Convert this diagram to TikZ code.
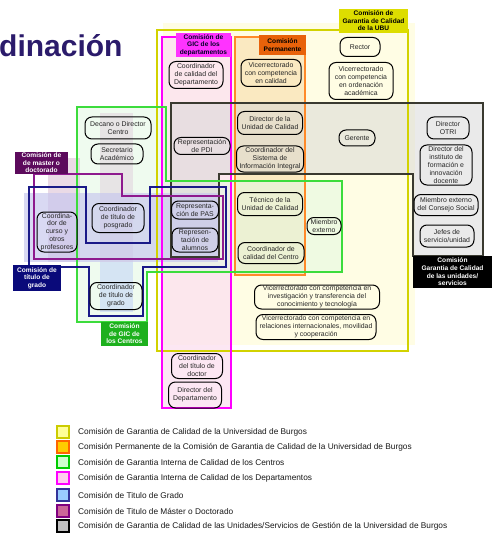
\documentclass[tikz,border=0pt]{standalone}
\usepackage{fontspec}
\setmainfont{Liberation Sans}
\usetikzlibrary{shapes.misc}
\definecolor{ubuline}{HTML}{D2D200}
\definecolor{ubulab}{HTML}{DDDD00}
\definecolor{ubufill}{HTML}{FFFDE4}
\definecolor{orline}{HTML}{FF8A2A}
\definecolor{orlab}{HTML}{E8620A}
\definecolor{orfill}{HTML}{F6D9A6}
\definecolor{mgline}{HTML}{FF00FF}
\definecolor{mglab}{HTML}{FF33FF}
\definecolor{mgfill}{HTML}{FCE2F0}
\definecolor{grline}{HTML}{3CDC3C}
\definecolor{grlab}{HTML}{1DB01D}
\definecolor{grfill}{HTML}{E2F8E2}
\definecolor{blline}{HTML}{1A1A88}
\definecolor{bllab}{HTML}{0A0A7A}
\definecolor{blfill}{HTML}{C6C6EE}
\definecolor{puline}{HTML}{8E1A8E}
\definecolor{pulab}{HTML}{5C0A5C}
\definecolor{pufill}{HTML}{DCC2D6}
\definecolor{bkline}{HTML}{3A3A30}
\definecolor{bkfill}{HTML}{D6D6D6}
\definecolor{titlecol}{HTML}{2B1B6B}
\definecolor{ltblue}{HTML}{C4D6F6}
\definecolor{lg1}{HTML}{FFFF99}
\definecolor{lg1b}{HTML}{CCCC00}
\definecolor{lg2}{HTML}{FFCC00}
\definecolor{lg2b}{HTML}{FF6600}
\definecolor{lg3}{HTML}{CCFFCC}
\definecolor{lg3b}{HTML}{00CC00}
\definecolor{lg4}{HTML}{FFCCEE}
\definecolor{lg4b}{HTML}{FF00FF}
\definecolor{lg5}{HTML}{99CCFF}
\definecolor{lg5b}{HTML}{333399}
\definecolor{lg6}{HTML}{CC6699}
\definecolor{lg6b}{HTML}{800080}
\definecolor{lg7}{HTML}{C0C0C0}
\newcommand{\nfont}{\fontsize{6.9}{7.8}\selectfont}
\newcommand{\lfont}{\fontsize{6.6}{7.6}\selectfont\bfseries}
\tikzset{
  nd/.style={draw=black, line width=1pt, rounded corners=7pt, align=center,
    inner sep=0pt, font=\nfont, text=black!85},
  comm/.style={line width=1.8pt},
  lab/.style={align=center, inner sep=0pt, font=\lfont},
  legsq/.style={line width=2pt, minimum size=11.5pt, inner sep=0pt},
  legtx/.style={anchor=west, inner sep=0pt, font=\fontsize{8.3}{9}\selectfont, text=black!90}
}
\begin{document}
\begin{tikzpicture}[x=1pt,y=-1pt]
\useasboundingbox (0,0) rectangle (492,540);
\fill[white] (0,0) rectangle (492,540);

% title
\node[anchor=base west, inner sep=0pt, font=\fontsize{30}{34}\selectfont\bfseries, text=titlecol] (title) at (-1,57) {dinación};

% fills
\fill[ubufill] (163,23) rectangle (415,345);
\fill[mgfill, opacity=0.8] (162,37) rectangle (231,408);
\fill[orfill, opacity=0.55] (235,37) rectangle (305,275);
\fill[grfill, opacity=0.55] (77,107) -- (166,107) -- (166,181) -- (342,181) -- (342,272) -- (147,272) -- (147,322) -- (77,322) -- cycle;
\fill[bkfill, opacity=0.5] (171,103) -- (483,103) -- (483,256) -- (413,256) -- (413,174) -- (219,174) -- (219,257) -- (171,257) -- cycle;
\fill[pufill, opacity=0.6] (48,158) rectangle (80,262);
\fill[pufill, opacity=0.4] (100,113) rectangle (133,262);
\fill[blfill, opacity=0.65] (24,193) rectangle (218,262);
\fill[ltblue, opacity=0.6] (100,262) rectangle (133,312);

% committee outlines
\draw[comm, ubuline] (157,30) rectangle (408,351);
\draw[comm, mgline] (162,37) rectangle (231,408);
\draw[comm, orline] (235,37) rectangle (305,275);
\draw[comm, bkline] (171,103) -- (483,103) -- (483,256) -- (413,256) -- (413,174) -- (219,174) -- (219,257) -- (171,257) -- cycle;
\draw[comm, grline] (77,107) -- (166,107) -- (166,181) -- (342,181) -- (342,272) -- (147,272) -- (147,322) -- (77,322) -- cycle;
\draw[comm, puline] (34,174) -- (122,174) -- (122,196) -- (223,196) -- (223,259) -- (34,259) -- cycle;
\draw[comm, blline] (29,187) -- (86,187) -- (86,243) -- (150,243) -- (150,187) -- (226,187) -- (226,267) -- (143,267) -- (143,316) -- (89,316) -- (89,267) -- (29,267) -- cycle;

% committee labels
\node[lab, fill=ubulab, minimum width=69pt, minimum height=24pt] (lubu) at (373.5,21) {Comisión de\\Garantia de Calidad\\de la UBU};
\node[lab, fill=orlab, minimum width=47pt, minimum height=20pt] (lper) at (282.5,45) {Comisión\\Permanente};
\node[lab, fill=mglab, text=black!85!blue, minimum width=55pt, minimum height=24pt] (ldep) at (203.5,45) {Comisión de\\GIC de los\\departamentos};
\node[lab, fill=grlab, text=white, minimum width=47pt, minimum height=24pt] (lcen) at (124.5,334) {Comisión\\de GIC de\\los Centros};
\node[lab, fill=bllab, text=white, minimum width=48pt, minimum height=26pt] (lgra) at (37,278) {Comisión de\\título de\\grado};
\node[lab, fill=pulab, text=white, minimum width=53pt, minimum height=22pt] (lmas) at (41.5,163) {Comisión de\\de master o\\doctorado};
\node[lab, fill=black, text=white, minimum width=79pt, minimum height=32pt] (luni) at (452.5,272) {Comisión\\Garantia de Calidad\\de las unidades/\\servicios};

% member nodes
\node[nd, minimum width=54pt, minimum height=27pt] (depcal) at (196,75) {Coordinador\\de calidad del\\Departamento};
\node[nd, minimum width=60pt, minimum height=27pt] (vicecal) at (271,73) {Vicerrectorado\\con competencia\\en calidad};
\node[nd, minimum width=40pt, minimum height=19pt] (rector) at (360,47) {Rector};
\node[nd, minimum width=64pt, minimum height=37pt] (viceord) at (361,81) {Vicerrectorado\\con competencia\\en ordenación\\académica};
\node[nd, minimum width=66pt, minimum height=22pt] (decano) at (118,128) {Decano o Director\\Centro};
\node[nd, minimum width=52pt, minimum height=20pt] (secret) at (117,154) {Secretario\\Académico};
\node[nd, minimum width=56pt, minimum height=17pt] (pdi) at (202,146) {Representación\\de PDI};
\node[nd, minimum width=65pt, minimum height=23pt] (dirUC) at (270,123) {Director de la\\Unidad de Calidad};
\node[nd, minimum width=67pt, minimum height=26pt] (coordSII) at (270,159) {Coordinador del\\Sistema de\\Información Integral};
\node[nd, minimum width=36pt, minimum height=16pt] (gerente) at (357,138) {Gerente};
\node[nd, minimum width=42pt, minimum height=22pt] (otri) at (448,128) {Director\\OTRI};
\node[nd, minimum width=52pt, minimum height=40pt] (instituto) at (446,165) {Director del\\instituto de\\formación e\\innovación\\docente};
\node[nd, minimum width=64pt, minimum height=21pt] (miembroCS) at (446,205) {Miembro externo\\del Consejo Social};
\node[nd, minimum width=54pt, minimum height=22pt] (jefes) at (447,236) {Jefes de\\servicio/unidad};
\node[nd, minimum width=40pt, minimum height=40pt] (curso) at (57,232) {Coordina-\\dor de\\curso y\\otros\\profesores};
\node[nd, minimum width=52pt, minimum height=29pt] (posgrado) at (118,218) {Coordinador\\de título de\\posgrado};
\node[nd, minimum width=47pt, minimum height=18pt] (pas) at (195,210) {Representa-\\ción de PAS};
\node[nd, minimum width=46pt, minimum height=24pt] (alumnos) at (195,240) {Represen-\\tación de\\alumnos};
\node[nd, minimum width=65pt, minimum height=23pt] (tecnico) at (270,204) {Técnico de la\\Unidad de Calidad};
\node[nd, minimum width=66pt, minimum height=21pt] (coordCentro) at (271,253) {Coordinador de\\calidad del Centro};
\node[nd, minimum width=34pt, minimum height=17pt] (mext) at (324,226) {Miembro\\externo};
\node[nd, minimum width=52pt, minimum height=27pt] (grado) at (116,296) {Coordinador\\de título de\\grado};
\node[nd, minimum width=125pt, minimum height=24pt] (vinv) at (317,297) {Vicerrectorado con competencia en\\investigación y transferencia del\\conocimiento y tecnología};
\node[nd, minimum width=120pt, minimum height=25pt] (vrel) at (316,327) {Vicerrectorado con competencia en\\relaciones internacionales, movilidad\\y cooperación};
\node[nd, minimum width=51pt, minimum height=25pt] (doctor) at (197,366) {Coordinador\\del título de\\doctor};
\node[nd, minimum width=53pt, minimum height=26pt] (dirDep) at (195,395) {Director del\\Departamento};

% legend
\node[legsq, draw=lg1b, fill=lg1] (sq1) at (63,432) {};
\node[legsq, draw=lg2b, fill=lg2] (sq2) at (63,447) {};
\node[legsq, draw=lg3b, fill=lg3] (sq3) at (63,462) {};
\node[legsq, draw=lg4b, fill=lg4] (sq4) at (63,478) {};
\node[legsq, draw=lg5b, fill=lg5] (sq5) at (63,495) {};
\node[legsq, draw=lg6b, fill=lg6] (sq6) at (63,511) {};
\node[legsq, draw=black, fill=lg7] (sq7) at (63,526) {};
\node[legtx] (t1) at (78,432) {Comisión de Garantia de Calidad de la Universidad de Burgos};
\node[legtx] (t2) at (78,447) {Comisión Permanente de la Comisión de Garantia de Calidad de la Universidad de Burgos};
\node[legtx] (t3) at (78,462) {Comisión de Garantia Interna de Calidad de los Centros};
\node[legtx] (t4) at (78,478) {Comisión de Garantia Interna de Calidad de los Departamentos};
\node[legtx] (t5) at (78,495) {Comisión de Titulo de Grado};
\node[legtx] (t6) at (78,511) {Comisión de Titulo de Máster o Doctorado};
\node[legtx] (t7) at (78,526) {Comisión de Garantia de Calidad de las Unidades/Servicios de Gestión de la Universidad de Burgos};
\end{tikzpicture}
\end{document}
